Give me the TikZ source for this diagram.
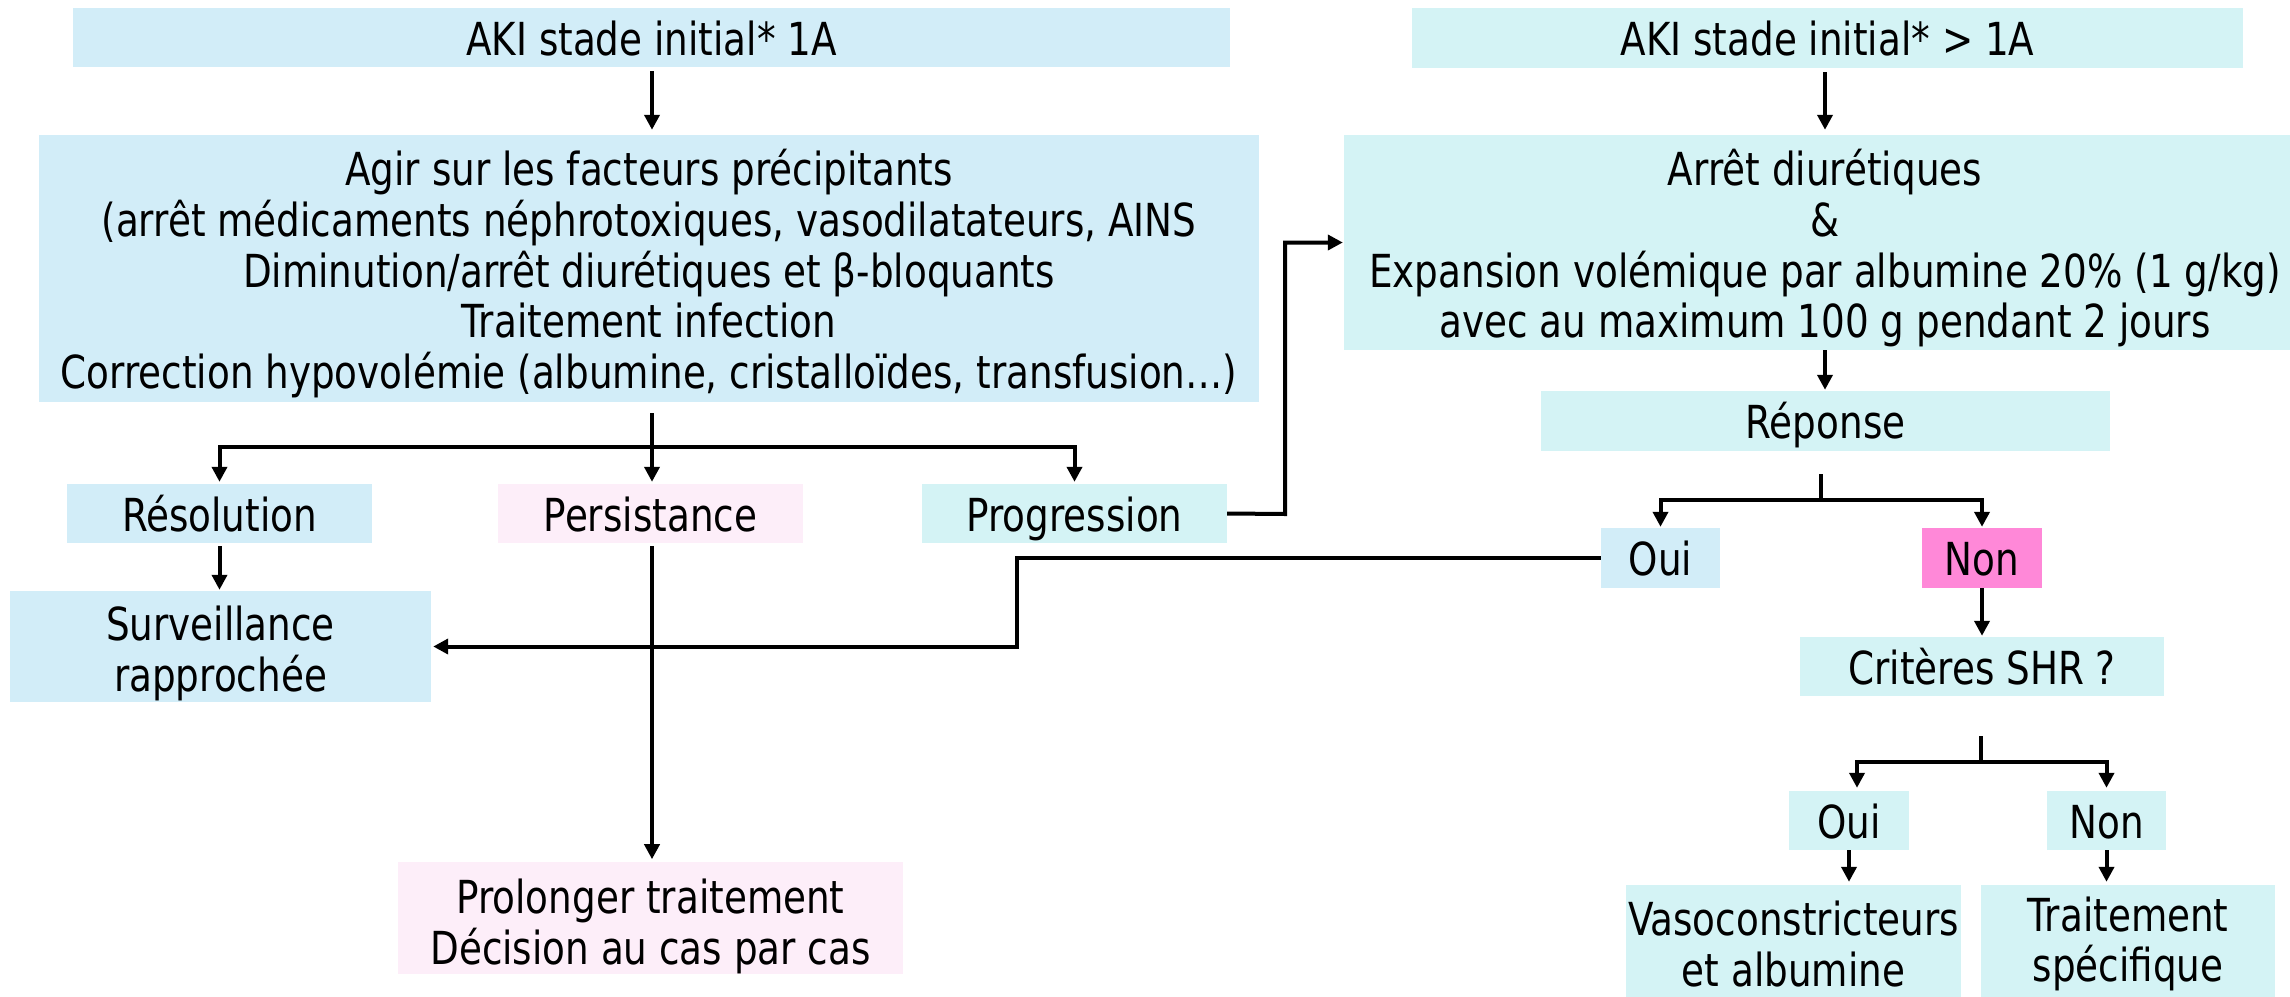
\documentclass[tikz,border=0pt]{standalone}
\usepackage{fontspec}
\setmainfont{DejaVu Sans}[FakeStretch=0.82]
\usetikzlibrary{arrows.meta}
\definecolor{lblue}{RGB}{210,237,248}
\definecolor{lcyan}{RGB}{212,243,245}
\definecolor{lpink}{RGB}{253,238,249}
\definecolor{hotpink}{RGB}{255,136,216}
\newcommand{\lift}[1]{\rule{0pt}{#1}}
\begin{document}
\begin{tikzpicture}[x=1pt,y=-1pt,
  box/.style={rectangle, inner sep=0pt, align=center, font=\fontsize{45.5}{50.7}\selectfont},
  one/.style={text height=35pt, text depth=0pt},
  ln/.style={line width=4pt},
  lnk/.style={line width=4pt, -{Triangle[length=15pt,width=15pt]}}
]
\useasboundingbox (0,0) rectangle (2290,996);
\fill[white] (0,0) rectangle (2290,996);

% left column
\node[box, one, fill=lblue, minimum width=1157pt, minimum height=59pt] (aki1) at (651.5,37.5) {AKI stade initial* 1A};
\node[box, fill=lblue, minimum width=1220pt, minimum height=267pt] (agir) at (649,268.5)
  {\lift{47pt}Agir sur les facteurs précipitants\\(arrêt médicaments néphrotoxiques, vasodilatateurs, AINS\\Diminution/arrêt diurétiques et β-bloquants\\Traitement infection\\Correction hypovolémie (albumine, cristalloïdes, transfusion…)};
\node[box, one, fill=lblue, minimum width=305pt, minimum height=59pt] (resol) at (219.5,513.5) {Résolution};
\node[box, one, fill=lpink, minimum width=305pt, minimum height=59pt] (persist) at (650.5,513.5) {Persistance};
\node[box, one, fill=lcyan, minimum width=305pt, minimum height=59pt] (progr) at (1074.5,513.5) {Progression};
\node[box, fill=lblue, minimum width=421pt, minimum height=111pt] (surv) at (220.5,646.5) {\lift{49pt}Surveillance\\rapprochée};
\node[box, fill=lpink, minimum width=505pt, minimum height=110pt] (prolong) at (650.5,918) {\lift{51pt}Prolonger traitement\\Décision au cas par cas};

% right column
\node[box, one, fill=lcyan, minimum width=831pt, minimum height=60pt] (aki2) at (1827.5,38) {AKI stade initial* > 1A};
\node[box, fill=lcyan, minimum width=962pt, minimum height=215pt] (arret) at (1825,242.5)
  {\lift{48pt}Arrêt diurétiques\\\&\\Expansion volémique par albumine 20\% (1 g/kg)\\avec au maximum 100 g pendant 2 jours};
\node[box, one, fill=lcyan, minimum width=569pt, minimum height=60pt] (reponse) at (1825.5,421) {Réponse};
\node[box, one, fill=lblue, minimum width=119pt, minimum height=60pt] (oui1) at (1660.5,558) {Oui};
\node[box, one, fill=hotpink, minimum width=120pt, minimum height=60pt] (non1) at (1982,558) {Non};
\node[box, one, fill=lcyan, minimum width=364pt, minimum height=59pt] (crit) at (1982,666.5) {Critères SHR ?};
\node[box, one, fill=lcyan, minimum width=120pt, minimum height=59pt] (oui2) at (1849,820.5) {Oui};
\node[box, one, fill=lcyan, minimum width=119pt, minimum height=59pt] (non2) at (2106.5,820.5) {Non};
\node[box, fill=lcyan, minimum width=335pt, minimum height=118pt] (vaso) at (1793.5,944) {Vasoconstricteurs\\et albumine};
\node[box, fill=lcyan, minimum width=294pt, minimum height=118pt] (trait) at (2128,944) {Traitement\\spécifique};

% junction points
\coordinate (b1) at (652,447);
\coordinate (b2) at (1821,500);
\coordinate (b3) at (1981,762);
\coordinate (j1) at (1017,558);
\coordinate (j2) at (1285,514);

% left connectors
\draw[lnk, shorten <=4pt, shorten >=5pt] (aki1.south -| b1) -- (agir.north -| b1);
\draw[lnk, shorten <=11pt, shorten >=2pt] (agir.south -| b1) -- (persist.north -| b1);
\draw[lnk, shorten >=2pt] (b1) -| (resol.north);
\draw[lnk, shorten >=2pt] (b1) -| (progr.north);
\draw[lnk, shorten <=3pt, shorten >=1pt] (resol.south) -- (resol.south |- surv.north);
\draw[lnk, shorten <=3pt, shorten >=3pt] (persist.south -| b1) -- (prolong.north -| b1);
\draw[lnk, shorten >=1pt] (progr.east) -- (j2) |- (arret.west);
\draw[lnk, shorten >=2pt] (oui1.west) -- (j1) |- (surv.east);

% right connectors
\draw[lnk, shorten <=4pt, shorten >=5pt] (aki2.south -| arret.north) -- (arret.north);
\draw[lnk, shorten >=1pt] (arret.south) -- (arret.south |- reponse.north);
\draw[ln, shorten <=23pt] (reponse.south -| b2) -- (b2);
\draw[lnk, shorten >=1pt] (b2) -| (oui1.north);
\draw[lnk, shorten >=1pt] (b2) -| (non1.north);
\draw[lnk, shorten >=1pt] (non1.south) -- (crit.north);
\draw[ln, shorten <=40pt] (crit.south -| b3) -- (b3);
\draw[lnk, shorten >=3pt] (b3) -| ([xshift=8pt]oui2.north);
\draw[lnk, shorten >=3pt] (b3) -| (non2.north);
\draw[lnk, shorten >=3pt] (oui2.south) -- (oui2.south |- vaso.north);
\draw[lnk, shorten >=3pt] (non2.south) -- (non2.south |- trait.north);
\end{tikzpicture}
\end{document}
